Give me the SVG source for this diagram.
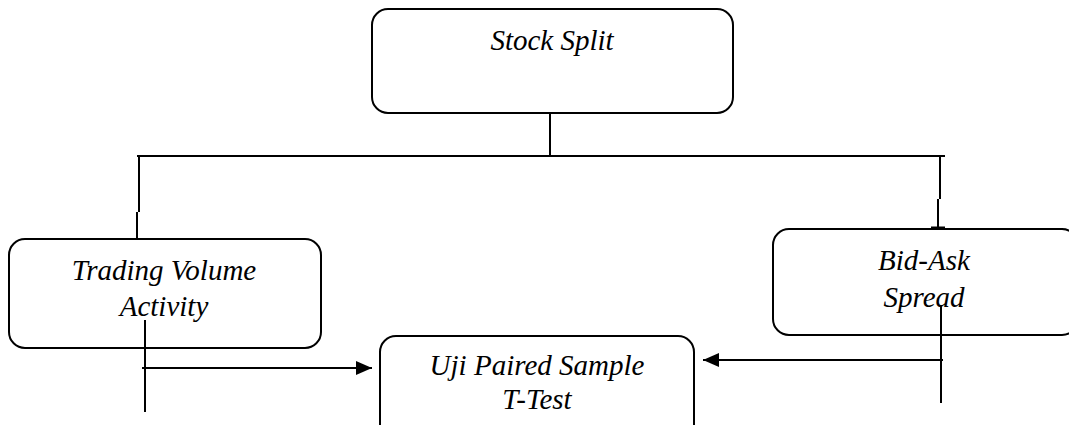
<svg xmlns="http://www.w3.org/2000/svg" width="1069" height="425" viewBox="0 0 1069 425">
<style>
.box{fill:#fff;stroke:#000;stroke-width:2}
.t{font-family:"Liberation Serif","Times New Roman",Times,serif;font-style:italic;font-size:29px;fill:#000;text-anchor:middle}
.ln{fill:none;stroke:#000;stroke-width:2}
</style>
<defs>
<marker id="ah" markerWidth="16" markerHeight="14" refX="16" refY="7" orient="auto" markerUnits="userSpaceOnUse" viewBox="0 0 16 14">
<path d="M0,0 L16,7 L0,14 Z" fill="#000"/>
</marker>
</defs>
<rect width="1069" height="425" fill="#fff"/>
<g id="stock-split">
<rect class="box" x="372" y="9" width="361" height="104" rx="16"/>
<text class="t" x="552" y="50">Stock Split</text>
</g>
<g id="trading-volume">
<rect class="box" x="9" y="239" width="312" height="109" rx="16"/>
<text class="t" x="164" y="280">Trading Volume</text>
<text class="t" x="164" y="316">Activity</text>
</g>
<g id="bid-ask">
<rect class="box" x="773" y="229" width="305" height="106" rx="16"/>
<text class="t" x="924" y="270">Bid-Ask</text>
<text class="t" x="924" y="307">Spread</text>
</g>
<g id="uji">
<rect class="box" x="380" y="336" width="314" height="110" rx="16"/>
<text class="t" x="537" y="375">Uji Paired Sample</text>
<text class="t" x="537" y="409">T-Test</text>
</g>
<g id="connectors">
<path class="ln" d="M550,113 V156"/>
<path class="ln" d="M137,156 H945"/>
<path class="ln" d="M139,156 V212 M137,212 V239"/>
<path class="ln" d="M940,156 V199 M938,199 V228"/>
<path d="M931,228 H945" stroke="#000" stroke-width="3"/>
<path class="ln" d="M145,320 V412"/>
<path class="ln" d="M142,368 H372" marker-end="url(#ah)"/>
<path class="ln" d="M943,360 H703" marker-end="url(#ah)"/>
<path class="ln" d="M941,305 V403"/>
</g>
</svg>
